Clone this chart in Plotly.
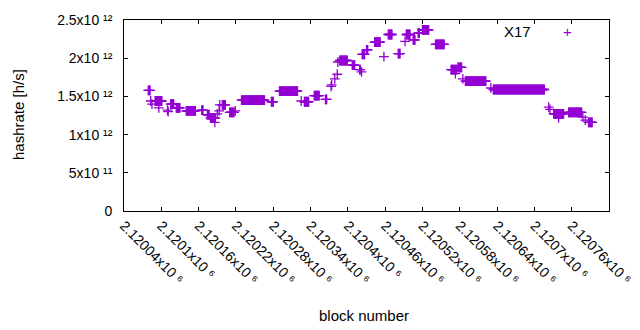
import plotly.graph_objects as go

# Run-length encoded observations: each run = consecutive blocks sharing a hashrate estimate
run_start = [2120079, 2120083, 2120085, 2120090, 2120096, 2120110, 2120111, 2120115, 2120124,
             2120140, 2120165, 2120174, 2120179, 2120186, 2120190, 2120193, 2120194, 2120198,
             2120210, 2120219, 2120229, 2120277, 2120290, 2120325, 2120330, 2120346, 2120364,
             2120373, 2120374, 2120379, 2120383, 2120384, 2120387, 2120407, 2120419, 2120422,
             2120423, 2120430, 2120443, 2120458, 2120465, 2120481, 2120492, 2120494, 2120505,
             2120513, 2120520, 2120541, 2120566, 2120573, 2120577, 2120585, 2120589, 2120630,
             2120634, 2120723, 2120725, 2120731, 2120739, 2120755, 2120778, 2120782, 2120787]
run_end = [2120082, 2120083, 2120085, 2120101, 2120096, 2120110, 2120111, 2120120, 2120130,
           2120155, 2120167, 2120177, 2120187, 2120186, 2120190, 2120193, 2120194, 2120203,
           2120217, 2120219, 2120266, 2120280, 2120319, 2120325, 2120337, 2120354, 2120366,
           2120373, 2120374, 2120379, 2120383, 2120384, 2120399, 2120411, 2120420, 2120422,
           2120427, 2120432, 2120452, 2120458, 2120471, 2120484, 2120492, 2120500, 2120508,
           2120515, 2120530, 2120555, 2120575, 2120573, 2120583, 2120585, 2120622, 2120630,
           2120716, 2120723, 2120725, 2120747, 2120739, 2120776, 2120778, 2120782, 2120793]
run_hashrate_th = [1.58, 1.44, 1.40, 1.44, 1.35, 1.32, 1.30, 1.40, 1.35,
                   1.31, 1.32, 1.26, 1.22, 1.16, 1.27, 1.31, 1.39, 1.39,
                   1.29, 1.31, 1.45, 1.43, 1.57, 1.44, 1.43, 1.51, 1.46,
                   1.63, 1.65, 1.73, 1.79, 1.95, 1.97, 1.91, 1.85, 1.82,
                   2.05, 2.11, 2.21, 2.02, 2.31, 2.06, 2.22, 2.31, 2.24,
                   2.33, 2.37, 2.18, 1.85, 1.80, 1.88, 1.73, 1.70, 1.61,
                   1.59, 1.36, 1.33, 1.27, 1.22, 1.29, 1.23, 1.19, 1.16]

x_tick_blocks = [2120040, 2120100, 2120160, 2120220, 2120280, 2120340, 2120400,
                 2120460, 2120520, 2120580, 2120640, 2120700, 2120760, 2120820]
x_tick_labels = ["2.12004x10 \u2076", "2.1201x10 \u2076", "2.12016x10 \u2076", "2.12022x10 \u2076",
                 "2.12028x10 \u2076", "2.12034x10 \u2076", "2.1204x10 \u2076", "2.12046x10 \u2076",
                 "2.12052x10 \u2076", "2.12058x10 \u2076", "2.12064x10 \u2076", "2.1207x10 \u2076",
                 "2.12076x10 \u2076", "2.12082x10 \u2076"]
y_tick_vals = [0, 5e11, 1e12, 1.5e12, 2e12, 2.5e12]
y_tick_labels = ["0", "5x10 \u00b9\u00b9", "1x10 \u00b9\u00b2", "1.5x10 \u00b9\u00b2",
                 "2x10 \u00b9\u00b2", "2.5x10 \u00b9\u00b2"]
series_name = "X17"

blocks, rates = [], []
for s, e, v in zip(run_start, run_end, run_hashrate_th):
    for b in range(s, e + 1):
        blocks.append(b)
        rates.append(v * 1e12)

PURPLE = "#9400D3"
FONT = "Liberation Sans, Arial, sans-serif"
PAD = "\u00a0\u00a0"

fig = go.Figure()
fig.add_trace(go.Scatter(
    x=blocks, y=rates, mode="markers", name=series_name, showlegend=False,
    marker=dict(symbol="cross-thin", size=7, color=PURPLE,
                line=dict(color=PURPLE, width=1.3)),
))

axis_common = dict(ticks="inside", ticklen=4, tickcolor="black", tickwidth=1,
                   showline=True, linecolor="black", linewidth=1, mirror="ticks",
                   showgrid=False, zeroline=False, automargin=False,
                   tickfont=dict(size=14))

fig.update_layout(
    width=640, height=330,
    margin=dict(l=124, r=31, t=20, b=119),
    paper_bgcolor="white", plot_bgcolor="white",
    font=dict(family=FONT, size=14, color="black"),
    showlegend=False,
    xaxis=dict(range=[x_tick_blocks[0], x_tick_blocks[-1]],
               tickvals=x_tick_blocks, ticktext=x_tick_labels,
               tickangle=45, **axis_common),
    yaxis=dict(range=[y_tick_vals[0], y_tick_vals[-1]], tickvals=y_tick_vals,
               ticktext=[t + PAD for t in y_tick_labels], **axis_common),
    annotations=[
        dict(text="hashrate [h/s]", xref="paper", yref="paper",
             x=(18 - 124) / 485, y=(211 - 115) / 191, textangle=-90,
             showarrow=False, xanchor="center", yanchor="middle",
             font=dict(size=15)),
        dict(text="block number", xref="paper", yref="paper",
             x=(364 - 124) / 485, y=(211 - 315) / 191,
             showarrow=False, xanchor="center", yanchor="middle",
             font=dict(size=15)),
        dict(text=series_name, xref="paper", yref="paper",
             x=(533 - 124) / 485, y=(211 - 31) / 191,
             showarrow=False, xanchor="right", yanchor="middle",
             font=dict(size=15)),
        dict(text="+", xref="paper", yref="paper",
             x=(567 - 124) / 485, y=(211 - 32) / 191,
             showarrow=False, xanchor="center", yanchor="middle",
             font=dict(size=15, color=PURPLE)),
    ],
)

post = "document.body.style.margin='0';document.body.style.overflow='hidden';"
fig.write_html("out.html", config={"displayModeBar": False}, post_script=post)
